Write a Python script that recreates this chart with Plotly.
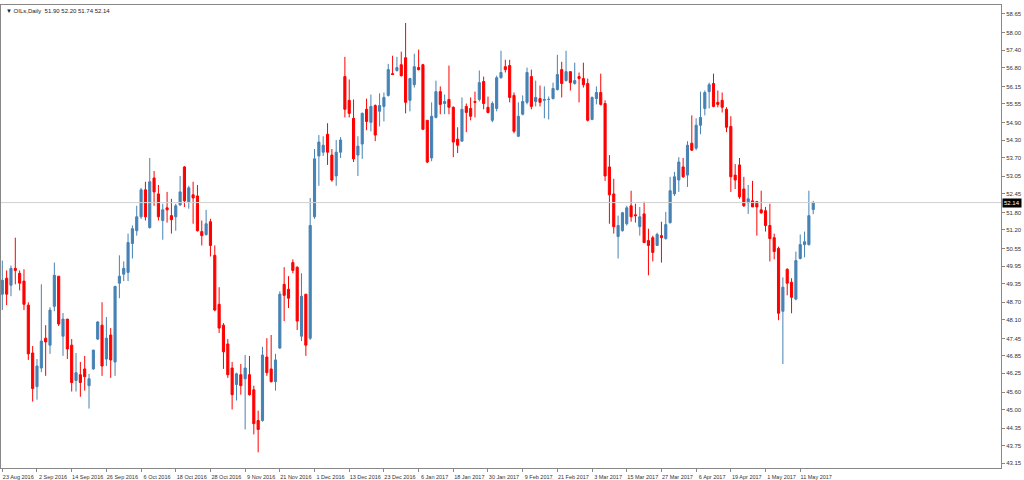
import plotly.graph_objects as go

# OILs daily candles, 23 Aug 2016 .. 16 May 2017
opens = [
    48.98, 49.53, 49.29, 49.87, 49.70, 49.43, 48.60, 46.95, 45.79, 46.43,
    47.46, 47.22, 48.56, 49.60, 47.53, 48.12, 47.22, 46.00, 46.20, 46.40,
    45.82, 46.40, 47.43, 47.91, 46.74, 47.57, 46.64, 49.36, 49.67, 49.73,
    50.73, 51.17, 51.65, 52.58, 51.28, 52.99, 52.44, 51.52, 51.96, 51.69,
    51.65, 52.06, 53.37, 52.17, 52.41, 52.37, 51.14, 51.04, 51.48, 50.32,
    48.63, 47.91, 47.26, 46.43, 45.86, 46.20, 46.06, 46.20, 45.68, 44.62,
    44.62, 46.81, 46.40, 45.96, 47.12, 49.32, 49.15, 50.07, 49.91, 47.53,
    48.98, 47.46, 51.65, 53.75, 53.88, 54.50, 53.78, 53.06, 53.88, 56.49,
    55.67, 55.05, 53.78, 54.16, 55.36, 54.91, 55.49, 55.29, 55.46, 55.84,
    56.59, 56.70, 56.90, 57.14, 55.67, 56.21, 56.80, 56.90, 54.98, 53.68,
    55.08, 55.97, 55.56, 55.70, 55.43, 54.33, 54.26, 55.46, 55.39, 55.63,
    55.70, 56.32, 55.43, 54.98, 55.39, 56.45, 56.83, 56.87, 55.84, 54.43,
    55.19, 55.60, 56.49, 55.63, 55.73, 55.67, 55.70, 55.73, 56.04, 56.73,
    56.35, 56.66, 56.25, 56.49, 56.42, 56.25, 55.01, 55.73, 55.94, 55.56,
    53.37, 52.44, 50.97, 51.17, 51.41, 52.03, 51.72, 51.31, 51.75, 50.83,
    50.93, 50.66, 51.00, 50.90, 51.45, 52.44, 52.92, 53.37, 53.09, 54.19,
    54.02, 54.81, 55.39, 55.97, 56.25, 55.60, 55.67, 55.36, 54.77, 53.09,
    53.44, 52.61, 52.13, 52.20, 52.17, 51.89, 51.86, 51.35, 50.93, 50.56,
    48.39, 49.84, 49.39, 48.81, 50.21, 50.69, 50.69, 51.90,
]
highs = [
    50.14, 49.80, 49.97, 50.93, 49.80, 49.84, 48.70, 47.19, 46.74, 49.32,
    47.91, 48.53, 50.07, 49.60, 48.33, 48.12, 47.43, 46.95, 46.64, 46.85,
    46.23, 47.05, 48.05, 48.70, 48.19, 47.81, 49.25, 50.32, 50.11, 51.07,
    51.35, 52.03, 52.65, 52.86, 53.68, 53.23, 52.75, 52.10, 52.51, 52.27,
    52.10, 53.06, 53.40, 52.72, 52.86, 52.75, 51.52, 51.89, 51.58, 50.66,
    49.22, 47.98, 47.43, 46.64, 46.27, 46.57, 46.88, 46.85, 45.82, 44.96,
    47.16, 47.46, 47.57, 46.92, 49.08, 49.91, 49.60, 50.18, 49.94, 49.70,
    48.98, 52.30, 53.99, 54.47, 54.43, 54.88, 53.99, 54.30, 54.40, 57.17,
    56.39, 55.70, 54.43, 55.25, 55.73, 55.87, 55.53, 55.91, 55.94, 56.93,
    57.21, 57.17, 57.35, 58.34, 56.45, 57.28, 57.42, 56.93, 54.98, 55.60,
    56.35, 56.15, 55.87, 56.87, 55.46, 54.74, 55.77, 55.56, 55.77, 55.97,
    56.70, 56.49, 55.80, 55.63, 56.52, 57.38, 57.07, 57.07, 55.94, 55.60,
    55.84, 56.80, 56.73, 56.35, 56.18, 56.15, 55.80, 56.28, 57.24, 57.00,
    57.38, 56.66, 56.97, 56.63, 56.97, 56.42, 55.80, 56.15, 56.59, 55.67,
    53.78, 52.96, 51.69, 51.82, 52.03, 52.55, 52.10, 51.99, 52.17, 51.24,
    51.00, 51.10, 51.48, 51.82, 53.03, 53.20, 53.71, 53.68, 54.26, 55.15,
    55.05, 55.97, 56.01, 56.28, 56.59, 56.01, 55.94, 55.43, 55.12, 53.47,
    53.68, 53.03, 52.75, 52.89, 52.20, 52.55, 51.99, 52.10, 51.07, 50.62,
    49.56, 49.87, 49.53, 50.45, 51.04, 51.14, 52.55, 52.20,
]
lows = [
    48.43, 48.60, 48.91, 49.32, 49.11, 48.43, 46.71, 45.27, 45.34, 46.29,
    46.16, 46.92, 48.39, 47.88, 46.85, 46.74, 45.62, 45.62, 45.44, 45.65,
    45.03, 46.37, 47.40, 46.16, 46.50, 46.09, 46.16, 48.84, 49.43, 49.43,
    50.21, 51.00, 51.58, 51.52, 51.24, 52.03, 51.52, 50.86, 51.45, 51.07,
    51.17, 52.03, 51.99, 51.93, 51.41, 51.14, 50.66, 51.00, 50.28, 48.39,
    47.64, 46.40, 46.09, 45.00, 45.31, 45.51, 44.31, 45.48, 44.14, 43.52,
    44.58, 46.16, 45.93, 45.65, 47.09, 48.05, 48.50, 49.70, 47.74, 47.36,
    46.85, 47.40, 51.58, 52.72, 53.75, 53.44, 52.86, 52.72, 53.68, 55.08,
    55.08, 53.54, 53.06, 53.65, 54.64, 54.60, 54.26, 54.77, 54.94, 55.80,
    56.56, 56.66, 56.49, 55.22, 55.29, 56.11, 56.70, 54.64, 53.50, 53.57,
    55.05, 55.19, 55.19, 55.19, 53.71, 53.85, 54.26, 54.57, 54.98, 55.08,
    55.63, 55.36, 55.22, 54.91, 55.29, 56.42, 56.63, 55.60, 54.53, 54.40,
    55.15, 55.53, 55.36, 55.46, 55.46, 55.05, 55.01, 55.70, 56.01, 55.77,
    56.32, 56.01, 56.21, 55.60, 56.11, 54.94, 54.98, 55.53, 55.49, 52.89,
    51.41, 51.07, 50.21, 51.14, 51.35, 51.48, 51.45, 51.00, 50.76, 49.63,
    50.11, 50.66, 50.07, 50.86, 51.41, 52.37, 52.51, 52.99, 52.68, 53.92,
    53.95, 54.50, 55.15, 55.39, 55.43, 55.43, 55.25, 54.57, 52.51, 52.61,
    52.27, 51.99, 51.75, 51.99, 51.00, 51.75, 51.14, 50.11, 50.18, 48.08,
    46.57, 48.94, 48.32, 48.77, 50.18, 50.25, 50.66, 51.74,
]
closes = [
    49.46, 48.98, 49.87, 49.80, 49.36, 48.63, 46.92, 45.72, 46.50, 47.36,
    47.33, 48.43, 49.63, 47.95, 48.12, 47.09, 45.93, 46.27, 45.93, 46.13,
    46.06, 47.05, 48.02, 46.50, 47.46, 46.71, 49.25, 49.60, 49.87, 50.76,
    51.24, 51.65, 52.58, 51.65, 52.86, 52.51, 51.65, 51.89, 51.89, 51.55,
    52.03, 52.51, 52.20, 52.65, 52.30, 51.17, 51.00, 51.41, 50.66, 48.43,
    47.81, 46.99, 46.20, 45.51, 46.23, 45.82, 46.43, 45.51, 44.51, 44.31,
    46.88, 46.27, 45.96, 46.71, 48.98, 48.94, 48.84, 49.80, 48.05, 48.91,
    47.22, 51.35, 53.65, 54.23, 54.12, 53.88, 52.92, 53.88, 54.30, 55.36,
    55.22, 53.65, 54.09, 55.22, 54.94, 55.46, 54.47, 55.49, 55.77, 56.73,
    56.56, 56.80, 56.52, 55.60, 56.42, 56.83, 56.73, 54.67, 53.54, 55.12,
    55.97, 55.53, 55.63, 55.43, 54.23, 54.12, 55.36, 55.25, 55.12, 55.60,
    56.28, 55.56, 55.25, 55.56, 56.45, 56.63, 56.73, 55.77, 54.60, 55.12,
    55.63, 56.63, 55.46, 55.77, 55.60, 55.70, 55.70, 56.08, 56.56, 56.25,
    56.66, 56.28, 56.35, 56.42, 56.21, 54.98, 55.77, 55.94, 55.53, 53.06,
    52.41, 51.31, 51.35, 51.79, 51.96, 51.65, 51.69, 51.65, 50.76, 50.66,
    50.42, 51.04, 50.93, 51.38, 52.55, 53.03, 53.54, 53.03, 54.12, 53.95,
    54.81, 55.08, 55.94, 56.21, 55.46, 55.53, 55.43, 54.74, 53.03, 52.92,
    52.34, 52.03, 52.27, 51.99, 51.99, 51.79, 51.35, 50.90, 50.45, 48.32,
    49.22, 49.36, 48.87, 50.14, 50.69, 50.79, 51.69, 52.14,
]
date_labels = [
    "23 Aug 2016", "2 Sep 2016", "14 Sep 2016", "26 Sep 2016", "6 Oct 2016",
    "18 Oct 2016", "28 Oct 2016", "9 Nov 2016", "21 Nov 2016", "1 Dec 2016",
    "13 Dec 2016", "23 Dec 2016", "6 Jan 2017", "18 Jan 2017", "30 Jan 2017",
    "9 Feb 2017", "21 Feb 2017", "3 Mar 2017", "15 Mar 2017", "27 Mar 2017",
    "6 Apr 2017", "19 Apr 2017", "1 May 2017", "11 May 2017",
]
price_ticks = [
    58.65, 58.00, 57.40, 56.80, 56.15, 55.55, 54.90, 54.30, 53.70, 53.05,
    52.45, 51.80, 51.20, 50.55, 49.95, 49.35, 48.70, 48.10, 47.45, 46.85,
    46.25, 45.60, 45.00, 44.35, 43.75, 43.15,
]
last_price = closes[-1]

bars = list(range(len(closes)))
label_bars = bars[::8][:len(date_labels)]

UP = "#4682B4"
DOWN = "#FF0000"
FONT = "Liberation Sans"

fig = go.Figure(go.Candlestick(
    x=bars, open=opens, high=highs, low=lows, close=closes,
    increasing=dict(line=dict(color=UP, width=1), fillcolor=UP),
    decreasing=dict(line=dict(color=DOWN, width=1), fillcolor=DOWN),
    whiskerwidth=0, showlegend=False, hoverinfo="x+y",
))

# current price line
fig.add_hline(y=last_price, line=dict(color="#D0D0D0", width=1))

fig.add_annotation(
    x=1, xref="paper", xanchor="left", xshift=1, y=last_price, yref="y",
    text=f"{last_price:.2f}", showarrow=False,
    font=dict(family=FONT, size=6, color="white"), bgcolor="black", borderpad=1,
)
fig.add_annotation(
    x=0, xref="paper", xanchor="left", xshift=3, y=1, yref="paper", yanchor="top", yshift=-1,
    text=f"▼ OILs,Daily  {opens[-1]:.2f} {highs[-1]:.2f} {lows[-1]:.2f} {closes[-1]:.2f}",
    showarrow=False, font=dict(family=FONT, size=6, color="#222222"),
)

fig.update_layout(
    width=1024, height=480,
    margin=dict(l=1, r=23, t=5, b=12),
    paper_bgcolor="white", plot_bgcolor="white",
    font=dict(family=FONT, size=6, color="#333333"),
    xaxis=dict(
        range=[-0.3, 230.3], rangeslider=dict(visible=False), automargin=False,
        tickvals=label_bars, ticktext=date_labels, tickangle=0,
        tickfont=dict(size=5.5),
        ticks="outside", ticklen=3, tickcolor="#888888",
        ticklabelshift=16, ticklabelstandoff=0,
        showgrid=False, zeroline=False,
        showline=True, linecolor="#888888", mirror=True,
    ),
    yaxis=dict(
        range=[42.98, 58.96], side="right", automargin=False, tickvals=price_ticks,
        ticktext=[f"{t:.2f}" for t in price_ticks], ticks="outside", ticklen=3,
        tickcolor="#888888", showgrid=False, zeroline=False,
        showline=True, linecolor="#888888", mirror=True,
    ),
)

# drop the default page margin so the 1024x480 figure fills the window
fig.write_html(
    "out.html",
    config={"displayModeBar": False},
    post_script="document.body.style.margin='0';document.body.style.overflow='hidden';",
)
